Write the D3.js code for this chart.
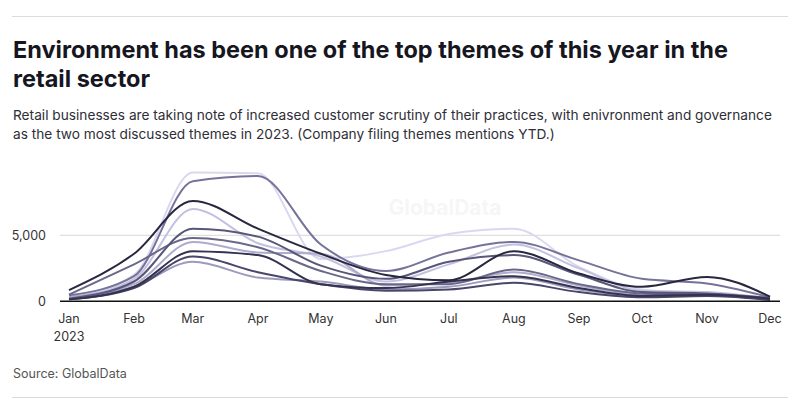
<!DOCTYPE html>
<html>
<head>
<meta charset="utf-8">
<script src="https://cdn.jsdelivr.net/npm/d3@7"></script>
<style>
  html, body { margin: 0; padding: 0; background: #fff; }
  svg { display: block; }
  text { font-family: Inter, "Noto Sans", sans-serif; }
</style>
</head>
<body>
<svg id="chart" width="800" height="408"></svg>
<script>
const months = ["Jan","Feb","Mar","Apr","May","Jun","Jul","Aug","Sep","Oct","Nov","Dec"];
const yTicks = [0, 5000];

const themeA = [300, 2000, 9750, 9700, 3200, 3800, 5100, 5500, 2600, 900, 600, 150];
const themeB = [450, 1900, 9100, 9500, 4300, 2300, 3700, 4500, 3100, 1700, 1350, 300];
const themeC = [850, 3600, 7600, 5500, 3600, 2000, 1600, 3800, 2100, 1100, 1850, 350];
const themeD = [250, 1700, 7000, 4400, 3400, 1500, 2800, 4300, 2500, 800, 700, 200];
const themeE = [200, 1500, 5500, 4900, 2700, 1700, 3000, 3500, 2000, 700, 600, 250];
const themeF = [500, 2800, 4800, 4100, 2300, 1300, 1300, 2400, 1300, 600, 500, 150];
const themeG = [350, 1300, 4500, 3700, 3600, 1200, 1400, 2200, 1200, 500, 450, 100];
const themeH = [150, 1100, 3800, 3500, 1300, 1000, 1500, 1900, 1000, 400, 500, 200];
const themeI = [150, 1000, 3400, 2200, 1300, 800, 900, 1400, 700, 300, 400, 100];
const themeJ = [200, 1100, 3000, 1800, 1500, 900, 1100, 1800, 900, 400, 550, 150];

const seriesList = [
  {values: themeA, color: "#dad8f0"},
  {values: themeD, color: "#c4c1e0"},
  {values: themeG, color: "#aeabcc"},
  {values: themeJ, color: "#9d9abc"},
  {values: themeB, color: "#76739a"},
  {values: themeF, color: "#6a6789"},
  {values: themeE, color: "#585679"},
  {values: themeI, color: "#48466a"},
  {values: themeH, color: "#34324f"},
  {values: themeC, color: "#28273f"}
];

const title = ["Environment has been one of the top themes of this year in the", "retail sector"];
const subtitle = ["Retail businesses are taking note of increased customer scrutiny of their practices, with enivronment and governance",
  "as the two most discussed themes in 2023. (Company filing themes mentions YTD.)"];
const source = "Source: GlobalData";

const svg = d3.select("#chart");
const dates = months.map((m, i) => new Date(2023, i, 1));

const x = d3.scaleTime().domain([dates[0], dates[11]]).range([69, 770]);
const y = d3.scaleLinear().domain([0, 10000]).range([301.3, 169.3]);

// rules
svg.append("line").attr("x1", 12).attr("x2", 788).attr("y1", 16.5).attr("y2", 16.5)
  .attr("stroke", "#dcdcdc").attr("stroke-width", 1);
svg.append("line").attr("x1", 12).attr("x2", 788).attr("y1", 397.5).attr("y2", 397.5)
  .attr("stroke", "#dcdcdc").attr("stroke-width", 1);

// title
function fitText(sel, w) {
  const node = sel.node();
  const len = node.getComputedTextLength();
  const fs = parseFloat(sel.attr("font-size"));
  sel.attr("font-size", (fs * w / len).toFixed(2));
}
const t1 = svg.append("text").attr("x", 13).attr("y", 58).attr("font-size", 22).attr("font-weight", 700)
  .attr("fill", "#16161f").text(title[0]);
fitText(t1, 715);
const t2 = svg.append("text").attr("x", 13).attr("y", 87).attr("font-size", t1.attr("font-size")).attr("font-weight", 700)
  .attr("fill", "#16161f").text(title[1]);

const s1 = svg.append("text").attr("x", 13).attr("y", 120).attr("font-size", 13.5)
  .attr("fill", "#2e2e36").text(subtitle[0]);
fitText(s1, 759);
svg.append("text").attr("x", 13).attr("y", 139).attr("font-size", s1.attr("font-size"))
  .attr("fill", "#2e2e36").text(subtitle[1]);

// watermark
svg.append("text").attr("x", 445).attr("y", 215).attr("text-anchor", "middle")
  .attr("font-size", 21).attr("font-weight", 700).attr("fill", "#f6f6f8").text("GlobalData");

// grid
svg.append("g").selectAll("line").data(yTicks.filter(d => d > 0)).join("line")
  .attr("x1", 60).attr("x2", 780).attr("y1", d => y(d)).attr("y2", d => y(d))
  .attr("stroke", "#d8d8d8").attr("stroke-width", 1);

// y labels
const fmt = d3.format(",");
svg.append("g").selectAll("text").data(yTicks).join("text")
  .attr("x", 46).attr("y", d => y(d) + 4.5).attr("text-anchor", "end")
  .attr("font-size", 12.5).attr("fill", "#333").text(d => fmt(d));

// lines
const line = d3.line().x((d, i) => x(dates[i])).y(d => y(d)).curve(d3.curveMonotoneX);
svg.append("g").selectAll("path").data(seriesList).join("path")
  .attr("d", d => line(d.values)).attr("fill", "none")
  .attr("stroke", d => d.color).attr("stroke-width", 2).attr("stroke-linejoin", "round");

// baseline
svg.append("line").attr("x1", 60).attr("x2", 780).attr("y1", y(0)).attr("y2", y(0))
  .attr("stroke", "#111").attr("stroke-width", 1.5);

// x labels
const xa = svg.append("g");
xa.selectAll("text").data(dates).join("text")
  .attr("x", d => x(d)).attr("y", 323).attr("text-anchor", "middle")
  .attr("font-size", 12.5).attr("fill", "#333").text((d, i) => months[i]);
xa.append("text").attr("x", x(dates[0])).attr("y", 341).attr("text-anchor", "middle")
  .attr("font-size", 12.5).attr("fill", "#333").text("2023");

// source
svg.append("text").attr("x", 13).attr("y", 378).attr("font-size", 12.5)
  .attr("fill", "#555").text(source);
</script>
</body>
</html>
